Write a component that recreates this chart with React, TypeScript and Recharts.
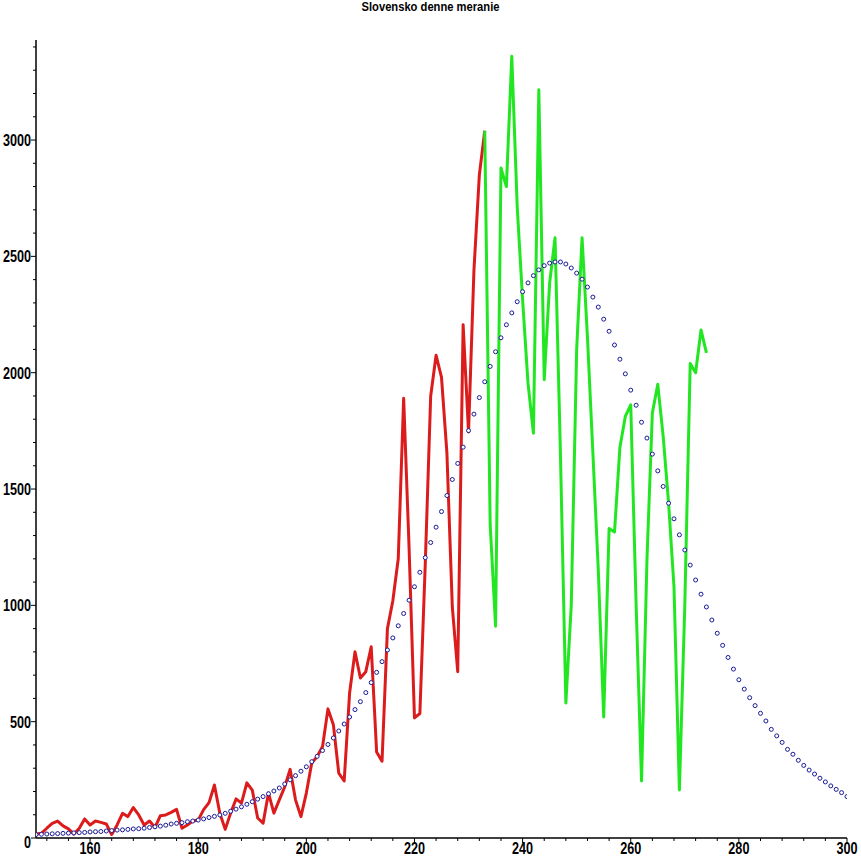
import React from "react";
import { LineChart, Line, XAxis, YAxis } from "recharts";

// day numbers run 150..300, one row per day
const firstDay = 150;

// measured daily counts (red part)
const redValues = [
  17, 20, 42, 63, 73, 52, 39, 17, 42, 82,
  56, 73, 67, 60, 15, 56, 106, 92, 131, 99,
  56, 73, 45, 96, 99, 110, 123, 42, 56, 73,
  77, 122, 152, 228, 106, 37, 107, 168, 150, 237,
  206, 86, 64, 193, 107, 164, 220, 295, 164, 92,
  193, 322, 350, 393, 555, 487, 279, 245, 623, 800,
  688, 715, 822, 370, 330, 900, 1020, 1200, 1890, 1250,
  516, 535, 1180, 1900, 2075, 1980, 1655, 993, 715, 2206,
  1745, 2440, 2850, 3040,
];

// newer measurements (green part), first day 233
const greenStart = 233;
const greenValues = [
  3040, 1350, 910, 2880, 2800, 3360, 2715, 2313, 1955, 1740,
  3216, 1970, 2386, 2580, 1650, 580, 1000, 2100, 2580, 2150,
  1655, 1152, 520, 1330, 1315, 1680, 1812, 1862, 1000, 245,
  1195, 1827, 1950, 1726, 1440, 1080, 206, 1000, 2040, 2000,
  2184, 2085,
];

// fitted model (blue circles), days 150..300
const modelValues = [
  15, 16, 17, 18, 19, 20, 21, 22, 23, 24,
  26, 27, 28, 30, 32, 34, 35, 37, 39, 40,
  42, 45, 48, 51, 55, 60, 63, 66, 70, 73,
  77, 82, 88, 93, 99, 106, 115, 124, 134, 145,
  156, 167, 178, 190, 202, 215, 232, 250, 268, 287,
  306, 328, 351, 376, 402, 430, 460, 490, 520, 552,
  586, 625, 668, 712, 758, 808, 860, 912, 965, 1022,
  1080, 1142, 1205, 1270, 1336, 1403, 1472, 1541, 1610, 1680,
  1751, 1822, 1893, 1961, 2027, 2090, 2150, 2206, 2257, 2305,
  2348, 2386, 2417, 2442, 2460, 2471, 2476, 2476, 2467, 2450,
  2428, 2402, 2368, 2325, 2282, 2230, 2178, 2119, 2058, 1995,
  1925, 1860, 1787, 1719, 1650, 1578, 1511, 1439, 1372, 1303,
  1238, 1173, 1109, 1048, 993, 937, 880, 828, 776, 726,
  680, 640, 603, 569, 536, 503, 467, 439, 411, 381,
  360, 334, 312, 292, 275, 257, 241, 224, 209, 195,
  178,
];

const xTicks = [
  152, 156, 160, 164, 168, 172, 176, 180, 184, 188, 192, 196, 200, 204, 208,
  212, 216, 220, 224, 228, 232, 236, 240, 244, 248, 252, 256, 260, 264, 268,
  272, 276, 280, 284, 288, 292, 296, 300,
];
const xLabels = [160, 180, 200, 220, 240, 260, 280, 300];

const yTicks = [
  0, 100, 200, 300, 400, 500, 600, 700, 800, 900, 1000, 1100, 1200, 1300,
  1400, 1500, 1600, 1700, 1800, 1900, 2000, 2100, 2200, 2300, 2400, 2500,
  2600, 2700, 2800, 2900, 3000, 3100, 3200, 3300, 3400,
];
const yLabels = [0, 500, 1000, 1500, 2000, 2500, 3000];

const data = modelValues.map((m, i) => {
  const day = firstDay + i;
  const g = day - greenStart;
  return {
    day,
    model: m,
    red: i < redValues.length ? redValues[i] : null,
    green: g >= 0 && g < greenValues.length ? greenValues[g] : null,
  };
});

const labelFont = "'Liberation Sans', Arial, sans-serif";
const squeeze = 0.79; // narrow bold digits like the original

const XTick = (props: any) => {
  const { x, y, payload } = props;
  const major = xLabels.includes(payload.value);
  return (
    <g>
      <line x1={x} x2={x} y1={y} y2={y + (major ? 5 : 3)} stroke="#000" />
      {major && (
        <text transform={`translate(${x},${y + 16}) scale(${squeeze},1)`}
          textAnchor="middle" fontFamily={labelFont}
          fontWeight="bold" fontSize={16} fill="#000">
          {payload.value}
        </text>
      )}
    </g>
  );
};

const YTick = (props: any) => {
  const { x, y, payload } = props;
  const major = yLabels.includes(payload.value);
  return (
    <g>
      <line x1={x} x2={x - (major ? 5 : 3)} y1={y} y2={y} stroke="#000" />
      {major && (
        <text transform={`translate(${x - 5},${y + (payload.value === 0 ? 10 : 6)}) scale(${squeeze},1)`}
          textAnchor="end" fontFamily={labelFont} fontWeight="bold" fontSize={16} fill="#000">
          {payload.value}
        </text>
      )}
    </g>
  );
};

export default function App() {
  return (
    <div style={{ position: "absolute", left: 0, top: 0, width: 861, height: 861, background: "#fff" }}>
      <div style={{
        position: "absolute", top: 0, left: 0, width: 861, textAlign: "center",
        fontFamily: labelFont, fontWeight: "bold", fontSize: 13, lineHeight: "14px",
        transform: "scaleX(0.86)",
      }}>
        Slovensko denne meranie
      </div>
      <LineChart width={861} height={861} data={data}
        margin={{ top: 40, right: 14, bottom: 0, left: 0 }}>
        <XAxis dataKey="day" type="number" domain={[150, 300]} ticks={xTicks}
          interval={0} allowDataOverflow height={23} tickSize={0} tickMargin={0}
          tickLine={false} tick={<XTick />} axisLine={{ stroke: "#000", strokeWidth: 1.5 }} />
        <YAxis type="number" domain={[0, 3430]} ticks={yTicks} interval={0}
          allowDataOverflow width={36} tickSize={0} tickMargin={0}
          tickLine={false} tick={<YTick />} axisLine={{ stroke: "#000", strokeWidth: 1.5 }} />
        <Line dataKey="red" type="linear" stroke="#dc1c1c" strokeWidth={3}
          dot={false} isAnimationActive={false} strokeLinejoin="round" />
        <Line dataKey="green" type="linear" stroke="#22e622" strokeWidth={3}
          dot={false} isAnimationActive={false} strokeLinejoin="round" />
        <Line dataKey="model" type="linear" stroke="none" strokeWidth={0}
          dot={{ r: 2, stroke: "#1a1a96", strokeWidth: 1, fill: "#fff" }}
          isAnimationActive={false} />
      </LineChart>
    </div>
  );
}
